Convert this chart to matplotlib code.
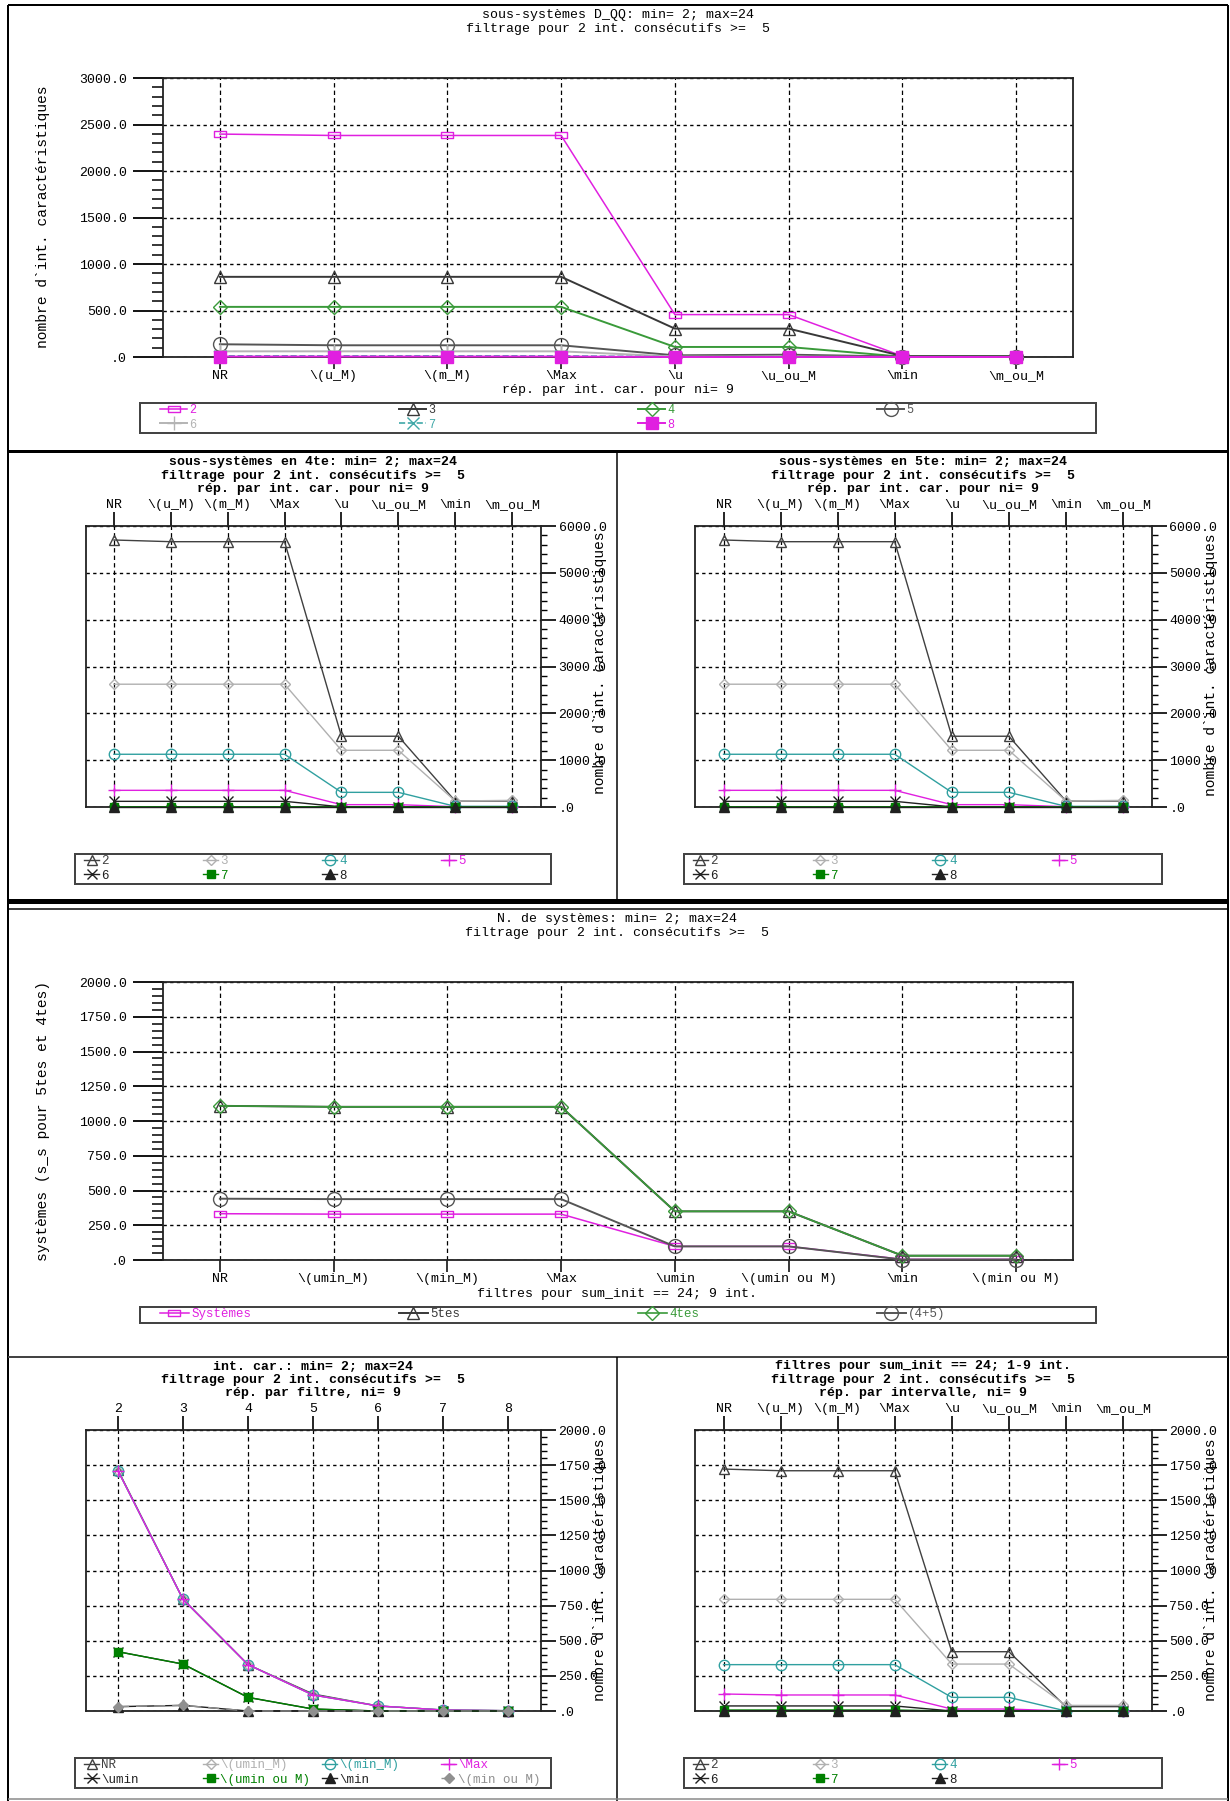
import matplotlib
matplotlib.use('Agg')
import matplotlib.pyplot as plt
from matplotlib.lines import Line2D
from matplotlib.patches import Rectangle
from matplotlib.ticker import MultipleLocator, FuncFormatter
from matplotlib.path import Path

plt.rcParams['font.family'] = ['Liberation Mono', 'DejaVu Sans']

# ---------------- data ----------------
# panel 1: sous-systèmes D_QQ
cat_ss = ['NR', r'\(u_M)', r'\(m_M)', r'\Max', r'\u', r'\u_ou_M', r'\min', r'\m_ou_M']
ser_names = ['2', '3', '4', '5', '6', '7', '8']
dqq_2 = [2397, 2382, 2382, 2382, 456, 456, 10, 5]
dqq_3 = [862, 862, 862, 862, 305, 305, 10, 10]
dqq_4 = [539, 539, 539, 539, 108, 108, 3, 3]
dqq_5 = [137, 126, 126, 126, 18, 25, 5, 5]
dqq_6 = [61, 61, 61, 61, 5, 5, 0, 0]
dqq_7 = [12, 12, 12, 12, 2, 2, 0, 0]
dqq_8 = [5, 5, 5, 5, 0, 0, 0, 0]

# panel 2: sous-systèmes en 4te
q4_2 = [5701, 5665, 5665, 5665, 1511, 1511, 128, 128]
q4_3 = [2622, 2622, 2622, 2622, 1211, 1211, 128, 142]
q4_4 = [1126, 1126, 1126, 1126, 313, 313, 14, 14]
q4_5 = [356, 356, 356, 356, 50, 50, 7, 7]
q4_6 = [121, 121, 121, 121, 3, 3, 0, 0]
q4_7 = [2, 2, 2, 2, 0, 0, 0, 0]
q4_8 = [0, 0, 0, 0, 0, 0, 0, 0]

# panel 3: sous-systèmes en 5te
q5_2 = [5701, 5665, 5665, 5665, 1511, 1511, 128, 128]
q5_3 = [2622, 2622, 2622, 2622, 1211, 1211, 128, 142]
q5_4 = [1126, 1126, 1126, 1126, 313, 313, 14, 14]
q5_5 = [356, 356, 356, 356, 50, 50, 7, 7]
q5_6 = [121, 121, 121, 121, 3, 3, 0, 0]
q5_7 = [2, 2, 2, 2, 0, 0, 0, 0]
q5_8 = [0, 0, 0, 0, 0, 0, 0, 0]

# panel 4: N. de systèmes
cat_sys = ['NR', r'\(umin_M)', r'\(min_M)', r'\Max', r'\umin', r'\(umin ou M)', r'\min', r'\(min ou M)']
sys_names = ['Systèmes', '5tes', '4tes', '(4+5)']
sys_all = [333, 330, 330, 330, 98, 98, 5, 5]
sys_5tes = [1109, 1102, 1102, 1102, 350, 350, 31, 31]
sys_4tes = [1109, 1102, 1102, 1102, 350, 350, 31, 31]
sys_45 = [441, 438, 438, 438, 98, 98, 3, 3]

# panel 5: int. car. par filtre
nint = [2, 3, 4, 5, 6, 7, 8]
filt_names = ['NR', r'\(umin_M)', r'\(min_M)', r'\Max', r'\umin', r'\(umin ou M)', r'\min', r'\(min ou M)']
f_NR = [1715, 795, 330, 121, 36, 7, 2]
f_umin_M = [1710, 795, 330, 114, 36, 7, 2]
f_min_M = [1710, 795, 330, 114, 36, 7, 2]
f_Max = [1710, 795, 330, 114, 36, 7, 2]
f_umin = [422, 334, 97, 14, 0, 0, 0]
f_umin_ou_M = [422, 334, 97, 14, 0, 0, 0]
f_min = [31, 40, 0, 0, 0, 0, 0]
f_min_ou_M = [31, 40, 0, 0, 0, 0, 0]

# panel 6: filtres pour sum_init == 24, par intervalle
i_2 = [1722, 1710, 1710, 1710, 422, 422, 31, 31]
i_3 = [795, 795, 795, 795, 334, 334, 40, 40]
i_4 = [330, 330, 330, 330, 97, 97, 0, 0]
i_5 = [121, 114, 114, 114, 14, 14, 0, 0]
i_6 = [36, 36, 36, 36, 0, 0, 0, 0]
i_7 = [7, 7, 7, 7, 0, 0, 0, 0]
i_8 = [2, 2, 2, 2, 0, 0, 0, 0]

# ---------------- figure ----------------
W, H = 1230, 1801
fig = plt.figure(figsize=(W / 100, H / 100), dpi=100)
PX = 0.72  # points per pixel

def fx(x):
    return x / W

def fy(y):
    return 1 - y / H

def add_ax(x0, y0, x1, y1):
    return fig.add_axes([fx(x0), fy(y1), (x1 - x0) / W, (y1 - y0) / H])

def fmt(v, pos):
    s = f"{v:.1f}"
    if s.startswith("0"):
        s = s[1:]
    return s

RECT = Path([(-1, -0.5), (1, -0.5), (1, 0.5), (-1, 0.5), (-1, -0.5)],
            [Path.MOVETO, Path.LINETO, Path.LINETO, Path.LINETO, Path.CLOSEPOLY])

MAG = '#e020e0'
DARK = '#383838'
GRN = '#3a9a3a'
GRY = '#555555'
LGRY = '#b4b4b4'
TEAL = '#40a8a8'
DGRN = '#008000'

# styles: (color, marker, filled, markersize, lw, linestyle)
sty_top = [
    (MAG, RECT, False, 9, 1.1, '-'),
    (DARK, '^', False, 9, 1.4, '-'),
    (GRN, 'D', False, 7, 1.4, '-'),
    (GRY, 'o', False, 10, 1.4, '-'),
    (LGRY, '+', False, 10, 1.4, '-'),
    (TEAL, 'x', False, 9, 1.2, '--'),
    (MAG, 's', True, 8, 1.4, '-'),
]
sty_small = [
    ('#404040', '^', False, 7, 1.0, '-'),
    ('#b0b0b0', 'D', False, 5.5, 1.0, '-'),
    ('#30a0a0', 'o', False, 7.5, 1.0, '-'),
    (MAG, '+', False, 9, 1.0, '-'),
    ('#202020', 'x', False, 7, 1.0, '-'),
    (DGRN, 's', True, 5.5, 1.0, '-'),
    ('#202020', '^', True, 7, 1.0, '-'),
]
sty_filt = sty_small + [('#909090', 'D', True, 5.5, 1.0, (0, (8, 5)))]
sty_sys = [
    (MAG, RECT, False, 9, 1.1, '-'),
    (DARK, '^', False, 9, 1.4, '-'),
    (GRN, 'D', False, 7, 1.2, '-'),
    (GRY, 'o', False, 10, 1.4, '-'),
]

def plot_series(ax, x, series, names, styles):
    handles = []
    for y, name, st in zip(series, names, styles):
        c, m, filled, ms, lw, ls = st
        h, = ax.plot(x, y, color=c, marker=m, markersize=ms, lw=lw, ls=ls,
                     markerfacecolor=c if filled else 'none', markeredgecolor=c,
                     markeredgewidth=1.0, clip_on=False, label=name, zorder=3)
        handles.append(h)
    return handles

def common_grid(ax):
    ax.grid(axis='y', which='major', linestyle=(0, (2.4, 2.4)), color='black', lw=1.0)
    ax.grid(axis='x', which='major', linestyle=(0, (3.5, 2.5)), color='black', lw=0.9)
    ax.set_axisbelow(True)
    for s in ax.spines.values():
        s.set_linewidth(1.3)
        s.set_color('#222222')

def setup_left(ax, cats, ymax, major, minor):
    ax.set_xlim(-0.5, len(cats) - 0.5)
    ax.set_ylim(0, ymax)
    ax.set_xticks(range(len(cats)))
    ax.set_xticklabels(cats)
    ax.yaxis.set_major_locator(MultipleLocator(major))
    ax.yaxis.set_minor_locator(MultipleLocator(minor))
    ax.yaxis.set_major_formatter(FuncFormatter(fmt))
    ax.tick_params(axis='y', which='major', direction='out', length=30 * PX, width=1.3,
                   pad=6 * PX, labelsize=9.5)
    ax.tick_params(axis='y', which='minor', direction='out', length=11 * PX, width=1.1)
    ax.tick_params(axis='x', direction='out', length=12 * PX, width=1.1, pad=1, labelsize=9.5)
    common_grid(ax)

def setup_right(ax, xvals, labels, ymax, major, minor):
    ax.set_xlim(xvals[0] - 0.5, xvals[-1] + 0.5)
    ax.set_ylim(0, ymax)
    ax.set_xticks(xvals)
    ax.set_xticklabels(labels)
    ax.xaxis.tick_top()
    ax.yaxis.tick_right()
    ax.yaxis.set_major_locator(MultipleLocator(major))
    ax.yaxis.set_minor_locator(MultipleLocator(minor))
    ax.yaxis.set_major_formatter(FuncFormatter(fmt))
    ax.tick_params(axis='y', which='major', direction='out', length=15 * PX, width=1.2,
                   pad=3 * PX, labelsize=9.5)
    ax.tick_params(axis='y', which='minor', direction='out', length=6 * PX, width=1.0)
    ax.tick_params(axis='x', direction='out', length=14 * PX, width=1.2, pad=1, labelsize=9.5)
    common_grid(ax)

def col_legend(handles, labels, box, off, hl, fs=9.0, top_pad=1):
    """Legend laid out row-major in 4 equally spaced columns inside a box."""
    x0, y0, x1, y1 = box
    pitch = (x1 - x0) / 4.0
    n = len(handles)
    for k in range(4):
        idx = [i for i in range(n) if i % 4 == k]
        if not idx:
            continue
        fig.legend([handles[i] for i in idx], [labels[i] for i in idx], loc='upper left',
                   bbox_to_anchor=(fx(x0 + off + k * pitch), fy(y0 + top_pad)),
                   bbox_transform=fig.transFigure, frameon=False, borderpad=0,
                   borderaxespad=0, handlelength=hl, handletextpad=0.2,
                   labelcolor='linecolor', fontsize=fs, labelspacing=0.22)
    fig.add_artist(Rectangle((fx(x0), fy(y1)), (x1 - x0) / W, (y1 - y0) / H,
                             transform=fig.transFigure, fill=False,
                             edgecolor='#444444', lw=2 * PX))

def ftext(x, y, s, **kw):
    fig.text(fx(x), fy(y), s, ha=kw.pop('ha', 'center'), va=kw.pop('va', 'center'), **kw)

# ---------- panel 1 ----------
ax1 = add_ax(163, 78, 1073, 357)
setup_left(ax1, cat_ss, 3000, 500, 100)
h1 = plot_series(ax1, range(8), [dqq_2, dqq_3, dqq_4, dqq_5, dqq_6, dqq_7, dqq_8],
                 ser_names, sty_top)
col_legend(h1, ser_names, (140, 403, 1096, 433), 20, 2.3, fs=8.5)
ftext(618, 15, 'sous-systèmes D_QQ: min= 2; max=24', fontsize=9.5)
ftext(618, 29, 'filtrage pour 2 int. consécutifs >=  5', fontsize=9.5)
ftext(618, 390, 'rép. par int. car. pour ni= 9', fontsize=9.5)
ftext(43, 217, 'nombre d`int. caractéristiques', rotation=90, fontsize=10.5)

# ---------- panel 2 ----------
ax2 = add_ax(85.5, 526, 540.5, 807)
setup_right(ax2, list(range(8)), cat_ss, 6000, 1000, 200)
h2 = plot_series(ax2, range(8), [q4_2, q4_3, q4_4, q4_5, q4_6, q4_7, q4_8],
                 ser_names, sty_small)
col_legend(h2, ser_names, (75, 854, 551, 884), 9, 1.2)
ftext(313, 462, 'sous-systèmes en 4te: min= 2; max=24', fontsize=9.5, weight='bold')
ftext(313, 476, 'filtrage pour 2 int. consécutifs >=  5', fontsize=9.5, weight='bold')
ftext(313, 489, 'rép. par int. car. pour ni= 9', fontsize=9.5, weight='bold')
ftext(600, 663, 'nombre d`int. caractéristiques', rotation=90, fontsize=10.5)

# ---------- panel 3 ----------
ax3 = add_ax(695, 526, 1151.5, 807)
setup_right(ax3, list(range(8)), cat_ss, 6000, 1000, 200)
h3 = plot_series(ax3, range(8), [q5_2, q5_3, q5_4, q5_5, q5_6, q5_7, q5_8],
                 ser_names, sty_small)
col_legend(h3, ser_names, (684, 854, 1162, 884), 9, 1.2)
ftext(923, 462, 'sous-systèmes en 5te: min= 2; max=24', fontsize=9.5, weight='bold')
ftext(923, 476, 'filtrage pour 2 int. consécutifs >=  5', fontsize=9.5, weight='bold')
ftext(923, 489, 'rép. par int. car. pour ni= 9', fontsize=9.5, weight='bold')
ftext(1211, 665, 'nombre d`int. caractéristiques', rotation=90, fontsize=10.5)

# ---------- panel 4 ----------
ax4 = add_ax(163, 982, 1073, 1260)
setup_left(ax4, cat_sys, 2000, 250, 50)
h4 = plot_series(ax4, range(8), [sys_all, sys_5tes, sys_4tes, sys_45], sys_names, sty_sys)
col_legend(h4, sys_names, (140, 1307, 1096, 1323), 20, 2.3, fs=9.0, top_pad=1)
ftext(617, 919, 'N. de systèmes: min= 2; max=24', fontsize=9.5)
ftext(617, 933, 'filtrage pour 2 int. consécutifs >=  5', fontsize=9.5)
ftext(617, 1294, 'filtres pour sum_init == 24; 9 int.', fontsize=9.5)
ftext(43, 1121, 'systèmes (s_s pour 5tes et 4tes)', rotation=90, fontsize=10.5)

# ---------- panel 5 ----------
ax5 = add_ax(85.5, 1430, 540.5, 1711)
setup_right(ax5, nint, [str(v) for v in nint], 2000, 250, 50)
h5 = plot_series(ax5, nint, [f_NR, f_umin_M, f_min_M, f_Max, f_umin, f_umin_ou_M, f_min, f_min_ou_M],
                 filt_names, sty_filt)
col_legend(h5, filt_names, (75, 1758, 551, 1788), 9, 1.2)
ftext(313, 1366, 'int. car.: min= 2; max=24', fontsize=9.5, weight='bold')
ftext(313, 1380, 'filtrage pour 2 int. consécutifs >=  5', fontsize=9.5, weight='bold')
ftext(313, 1393, 'rép. par filtre, ni= 9', fontsize=9.5, weight='bold')
ftext(600, 1570, 'nombre d`int. caractéristiques', rotation=90, fontsize=10.5)

# ---------- panel 6 ----------
ax6 = add_ax(695, 1430, 1151.5, 1711)
setup_right(ax6, list(range(8)), cat_ss, 2000, 250, 50)
h6 = plot_series(ax6, range(8), [i_2, i_3, i_4, i_5, i_6, i_7, i_8], ser_names, sty_small)
col_legend(h6, ser_names, (684, 1758, 1162, 1788), 9, 1.2)
ftext(923, 1366, 'filtres pour sum_init == 24; 1-9 int.', fontsize=9.5, weight='bold')
ftext(923, 1380, 'filtrage pour 2 int. consécutifs >=  5', fontsize=9.5, weight='bold')
ftext(923, 1393, 'rép. par intervalle, ni= 9', fontsize=9.5, weight='bold')
ftext(1211, 1570, 'nombre d`int. caractéristiques', rotation=90, fontsize=10.5)

# ---------- frames ----------
def fline(x0, y0, x1, y1, lw_px, color='black'):
    fig.add_artist(Line2D([fx(x0), fx(x1)], [fy(y0), fy(y1)], transform=fig.transFigure,
                          color=color, lw=lw_px * PX, solid_capstyle='butt'))

fline(8, 5, 1228, 5, 2)
fline(8, 5, 8, 1801, 2)
fline(1228, 5, 1228, 1801, 2)
fline(8, 451, 1228, 451, 3)
fline(617, 451, 617, 900, 1.5)
fline(8, 901, 1228, 901, 5)
fline(8, 909, 1228, 909, 1.5)
fline(8, 1357, 1228, 1357, 2, '#444444')
fline(617, 1357, 617, 1801, 1.5)
fline(8, 1799, 1228, 1799, 1.5, '#888888')

fig.savefig('out.png', dpi=100)
